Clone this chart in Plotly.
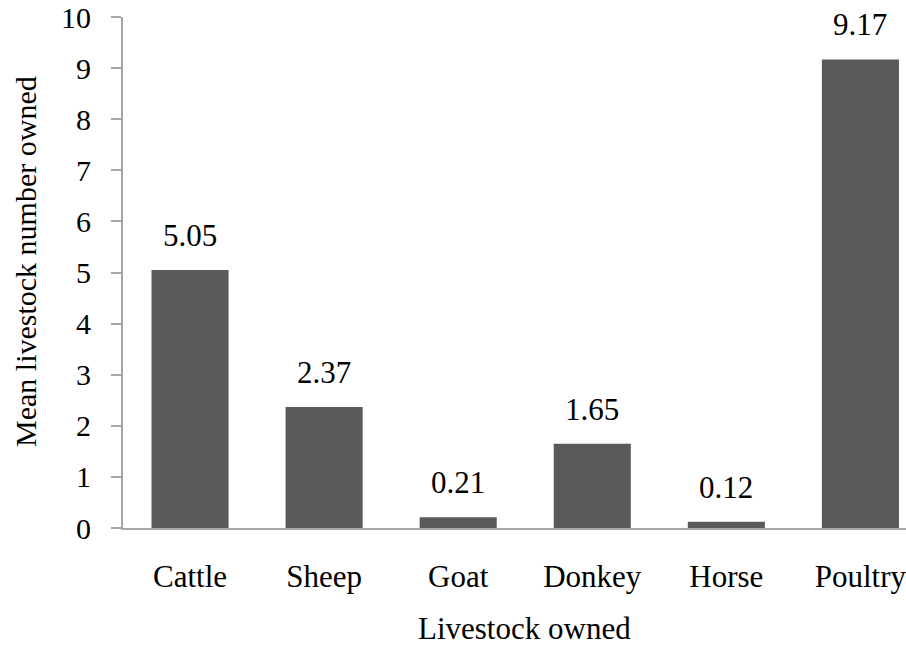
import plotly.graph_objects as go

categories = ["Cattle", "Sheep", "Goat", "Donkey", "Horse", "Poultry"]
values = [5.05, 2.37, 0.21, 1.65, 0.12, 9.17]
labels = ["5.05", "2.37", "0.21", "1.65", "0.12", "9.17"]
y_ticks = list(range(0, 11))

FONT = "Liberation Serif"
fig = go.Figure()
fig.add_trace(go.Bar(x=categories, y=values, marker_color="#5a5a5a",
                     marker_line_width=0, width=0.575))
for c, v, t in zip(categories, values, labels):
    fig.add_annotation(x=c, y=v, text=t, showarrow=False, yanchor="bottom",
                       yshift=15, font=dict(family=FONT, size=31, color="#000"))

# axis titles
fig.add_annotation(x=(524 - 123) / 783, y=(528 - 648) / 511, xref="paper", yref="paper",
                   text="Livestock owned", showarrow=False, xanchor="center", yanchor="bottom",
                   font=dict(family=FONT, size=31, color="#000"))
fig.add_annotation(x=(25 - 123) / 783, y=(528 - 262) / 511, xref="paper", yref="paper",
                   text="Mean livestock number owned", showarrow=False, textangle=-90,
                   xanchor="center", yanchor="middle",
                   font=dict(family=FONT, size=30, color="#000"))

fig.update_layout(
    width=906, height=648, margin=dict(l=123, r=0, t=17, b=120),
    plot_bgcolor="white", paper_bgcolor="white", showlegend=False,
    font=dict(family=FONT, size=30, color="#000"),
)
fig.update_xaxes(range=[-0.5, 5.34], showline=True, linecolor="#a6a6a6", linewidth=2,
                 ticks="", ticklabelstandoff=20, tickfont=dict(family=FONT, size=31))
fig.update_yaxes(range=[0, 10], tickvals=y_ticks, showline=True, linecolor="#a6a6a6",
                 linewidth=2, ticks="outside", ticklen=10, tickcolor="#a6a6a6",
                 tickwidth=2, showgrid=False, zeroline=False, ticklabelstandoff=14,
                 tickfont=dict(family=FONT, size=30))
fig.write_html("out.html")
